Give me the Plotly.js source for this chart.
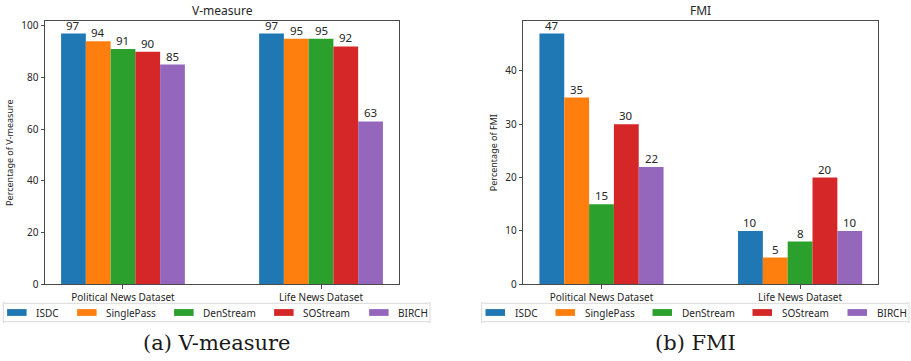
<!DOCTYPE html>
<html>
<head>
<meta charset="utf-8">
<script src="https://cdn.plot.ly/plotly-3.0.1.min.js"></script>
<style>
  html, body { margin: 0; padding: 0; background: #fff; }
  #chart { width: 911px; height: 361px; }
</style>
</head>
<body>
<div id="chart"></div>
<script>
// Datasets on the x axis and the clustering methods compared
const datasets = ["Political News Dataset", "Life News Dataset"];
const methods = ["ISDC", "SinglePass", "DenStream", "SOStream", "BIRCH"];

// V-measure (%) per method, [political, life]
const vmeasure = {
  ISDC:       [97, 97],
  SinglePass: [94, 95],
  DenStream:  [91, 95],
  SOStream:   [90, 92],
  BIRCH:      [85, 63]
};

// FMI (%) per method, [political, life]
const fmi = {
  ISDC:       [47, 10],
  SinglePass: [35, 5],
  DenStream:  [15, 8],
  SOStream:   [30, 20],
  BIRCH:      [22, 10]
};

const panelTitles = ["V-measure", "FMI"];
const yTitles = ["Percentage of V-measure", "Percentage of FMI"];
const captions = ["(a) V-measure", "(b) FMI"];

// ---- styling / geometry -------------------------------------------------
const W = 911, H = 361;
const colors = ["#1f77b4", "#ff7f0e", "#2ca02c", "#d62728", "#9467bd"];
const uiFont = "Noto Sans, DejaVu Sans, sans-serif";
const ink = "#262626";
const spine = "#4a4a4a";

const px = x => x / W;
const py = y => 1 - y / H;

// plot boxes in pixels: [left, right], shared top/bottom
const boxes = [[45, 399], [523.3, 878.3]];
const plotTop = 21, plotBottom = 284.3;
const xRange = [-0.39375, 1.39375];
const barWidth = 0.125;            // in category units (5 bars = 0.625)
// legend frames (pixels) and entry offsets inside the frame
const legendFrames = [[3.3, 430], [481.7, 909]];
const legendTop = 303.3, legendBottom = 321.7;
const legendEntryOffsets = [3.8, 73.8, 170.8, 270.8, 365.8];

function yMax(series) {
  let m = 0;
  methods.forEach(k => series[k].forEach(v => { m = Math.max(m, v); }));
  return m * 1.05;
}

const traces = [];
const annotations = [];
[vmeasure, fmi].forEach((series, p) => {
  const xa = p === 0 ? "x" : "x2";
  const ya = p === 0 ? "y" : "y2";
  const pxPerUnit = (boxes[p][1] - boxes[p][0]) / (xRange[1] - xRange[0]);
  methods.forEach((name, i) => {
    traces.push({
      type: "bar",
      x: datasets,
      y: series[name],
      name: name,
      xaxis: xa,
      yaxis: ya,
      marker: { color: colors[i], line: { width: 0 } },
      showlegend: false,
      hoverinfo: "x+y+name"
    });
    // value label just above each bar
    series[name].forEach((v, j) => {
      annotations.push({
        xref: xa, yref: ya, x: datasets[j], y: v,
        xshift: (i - (methods.length - 1) / 2) * barWidth * pxPerUnit,
        yshift: -1,
        text: String(v), showarrow: false,
        xanchor: "center", yanchor: "bottom",
        font: { family: uiFont, size: 11.5, color: ink }
      });
    });
  });
});

function xAxis(p) {
  return {
    domain: [px(boxes[p][0]), px(boxes[p][1])],
    anchor: p === 0 ? "y" : "y2",
    type: "category",
    range: xRange,
    showline: true, mirror: true, linecolor: spine, linewidth: 1,
    ticks: "outside", ticklen: 3.5, tickwidth: 1, tickcolor: spine,
    tickfont: { family: uiFont, size: 10, color: ink },
    showgrid: false, zeroline: false, fixedrange: true
  };
}
function yAxis(p, series, dtick) {
  return {
    domain: [py(plotBottom), py(plotTop)],
    anchor: p === 0 ? "x" : "x2",
    range: [0, yMax(series)],
    dtick: dtick,
    showline: true, mirror: true, linecolor: spine, linewidth: 1,
    ticks: "outside", ticklen: 3.5, tickwidth: 1, tickcolor: spine,
    tickfont: { family: uiFont, size: 10, color: ink },
    title: { text: yTitles[p], font: { family: uiFont, size: 9, color: ink }, standoff: 6 },
    showgrid: false, zeroline: false, fixedrange: true
  };
}

const shapes = [];

// panel titles and captions
panelTitles.forEach((t, p) => {
  const cx = (boxes[p][0] + boxes[p][1]) / 2;
  annotations.push({
    xref: "paper", yref: "paper", x: px(cx), y: py(10.7),
    text: t, showarrow: false, xanchor: "center", yanchor: "middle",
    font: { family: uiFont, size: 12, color: ink }
  });
});
const captionCenters = [217, 695];
captions.forEach((t, p) => {
  annotations.push({
    xref: "paper", yref: "paper", x: px(captionCenters[p]), y: py(343),
    text: t, showarrow: false, xanchor: "center", yanchor: "middle",
    font: { family: "DejaVu Serif, Liberation Serif, serif", size: 21, color: "#1a1a1a" }
  });
});

// legends under each panel, one row of five entries
function roundedRect(x0, y0, x1, y1, r) {
  return `M${x0 + r},${y0} L${x1 - r},${y0} Q${x1},${y0} ${x1},${y0 + r} ` +
         `L${x1},${y1 - r} Q${x1},${y1} ${x1 - r},${y1} L${x0 + r},${y1} ` +
         `Q${x0},${y1} ${x0},${y1 - r} L${x0},${y0 + r} Q${x0},${y0} ${x0 + r},${y0} Z`;
}
legendFrames.forEach(([l, r]) => {
  shapes.push({
    type: "path", xref: "paper", yref: "paper", layer: "above",
    path: roundedRect(px(l), py(legendTop), px(r), py(legendBottom), 0.003),
    line: { color: "#d9d9d9", width: 1 }, fillcolor: "rgba(255,255,255,0.8)"
  });
  const cy = (legendTop + legendBottom) / 2;
  methods.forEach((name, i) => {
    const x0 = l + legendEntryOffsets[i];
    shapes.push({
      type: "rect", xref: "paper", yref: "paper", layer: "above",
      x0: px(x0), x1: px(x0 + 19.5), y0: py(cy - 3.4), y1: py(cy + 3.4),
      fillcolor: colors[i], line: { width: 0 }
    });
    annotations.push({
      xref: "paper", yref: "paper", x: px(x0 + 27), y: py(cy),
      text: name, showarrow: false, xanchor: "left", yanchor: "middle",
      font: { family: uiFont, size: 10, color: ink }
    });
  });
});

const layout = {
  width: W, height: H,
  margin: { l: 0, r: 0, t: 0, b: 0 },
  paper_bgcolor: "#fff", plot_bgcolor: "#fff",
  barmode: "group", bargap: 0.375, bargroupgap: 0,
  xaxis: xAxis(0), xaxis2: xAxis(1),
  yaxis: yAxis(0, vmeasure, 20), yaxis2: yAxis(1, fmi, 10),
  annotations: annotations,
  shapes: shapes,
  showlegend: false
};

Plotly.newPlot("chart", traces, layout, { displayModeBar: false, staticPlot: true });
</script>
</body>
</html>
